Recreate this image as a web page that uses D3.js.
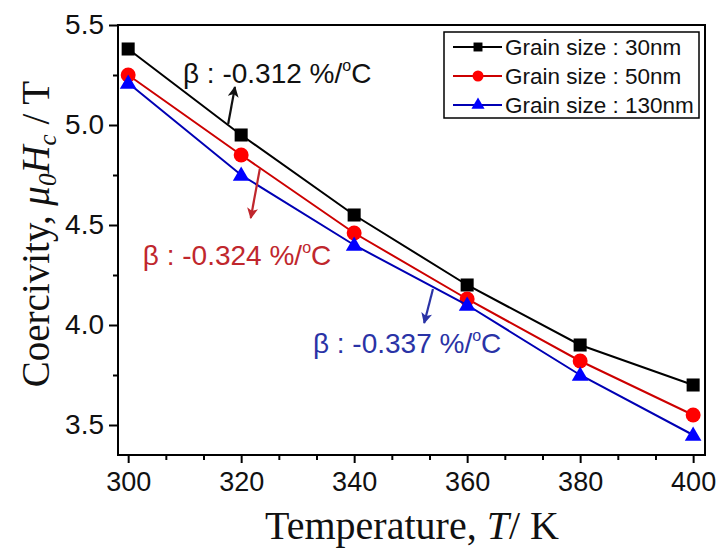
<!DOCTYPE html>
<html>
<head>
<meta charset="utf-8">
<script src="https://cdn.jsdelivr.net/npm/d3@7"></script>
<style>
body { margin: 0; background: #fff; }
text { font-family: "Liberation Sans", Arial, sans-serif; }
.serif { font-family: "Liberation Serif", "Times New Roman", serif; }
</style>
</head>
<body>
<svg id="chart" width="716" height="551"></svg>
<script>
// data
const temps = [300, 320, 340, 360, 380, 400];
const coer30 = [5.38, 4.95, 4.55, 4.20, 3.90, 3.70];
const coer50 = [5.25, 4.85, 4.46, 4.13, 3.82, 3.55];
const coer130 = [5.21, 4.75, 4.40, 4.10, 3.75, 3.45];
const seriesNames = ["Grain size : 30nm", "Grain size : 50nm", "Grain size : 130nm"];
const xTicks = [300, 320, 340, 360, 380, 400];
const yTicks = [3.5, 4.0, 4.5, 5.0, 5.5];
const betaLabels = ["\u03b2 : -0.312 %/", "\u03b2 : -0.324 %/", "\u03b2 : -0.337 %/"];
// annotation anchors in data units: text pos, arrow start, arrow tip
const betaText = [[309.7, 5.21], [302.6, 4.30], [332.7, 3.86]];
const arrowFrom = [[317.7, 5.005], [323.3, 4.78], [353.95, 4.18]];
const arrowTo = [[318.9, 5.19], [321.7, 4.535], [352.4, 4.01]];

const colors = ["#000000", "#ff0000", "#0000ff"];
const lineColors = ["#000000", "#cc0000", "#0000b4"];
const textColors = ["#111111", "#c0272d", "#2a33a6"];
const symbols = [d3.symbolSquare, d3.symbolCircle, d3.symbolTriangle];
const symSize = [170, 175, 120];

const svg = d3.select("#chart");
const x = d3.scaleLinear().domain([298.2, 402.1]).range([118, 705]);
const y = d3.scaleLinear().domain([3.35, 5.5]).range([455, 25]);

const series = [coer30, coer50, coer130].map((vals, i) => ({
  name: seriesNames[i],
  i: i,
  pts: temps.map((t, k) => ({t: t, v: vals[k]}))
}));

// minor ticks
const xMinor = d3.range(300, 400.01, 20 / 3).filter(v => !xTicks.some(t => Math.abs(t - v) < 0.01));
const yMinor = d3.range(3.5, 5.51, 0.25).filter(v => !yTicks.some(t => Math.abs(t - v) < 0.01));

const gx = svg.append("g").attr("transform", "translate(0,455)");
gx.call(d3.axisBottom(x).tickValues(xTicks).tickSize(8).tickPadding(9).tickFormat(d3.format("d")));
gx.append("g").call(d3.axisBottom(x).tickValues(xMinor).tickSize(5).tickFormat(""));
gx.selectAll(".domain").remove();
gx.selectAll("line").attr("stroke", "#000").attr("stroke-width", 2);
gx.selectAll("text").attr("font-size", 27).attr("fill", "#111");

const gy = svg.append("g").attr("transform", "translate(118,0)");
gy.call(d3.axisLeft(y).tickValues(yTicks).tickSize(9).tickPadding(5).tickFormat(d3.format(".1f")));
gy.append("g").call(d3.axisLeft(y).tickValues(yMinor).tickSize(5).tickFormat(""));
gy.selectAll(".domain").remove();
gy.selectAll("line").attr("stroke", "#000").attr("stroke-width", 2);
gy.selectAll("text").attr("font-size", 28).attr("fill", "#111");

// frame
svg.append("rect")
  .attr("x", 118).attr("y", 25)
  .attr("width", 705 - 118).attr("height", 455 - 25)
  .attr("fill", "none").attr("stroke", "#000").attr("stroke-width", 2);

// lines and markers
const line = d3.line().x(d => x(d.t)).y(d => y(d.v));
const sg = svg.append("g").selectAll("g").data(series).join("g");
sg.append("path")
  .attr("d", d => line(d.pts))
  .attr("fill", "none")
  .attr("stroke", d => lineColors[d.i])
  .attr("stroke-width", 2);
sg.selectAll("path.m").data(d => d.pts.map(p => ({...p, i: d.i}))).join("path")
  .attr("class", "m")
  .attr("d", d => d3.symbol(symbols[d.i], symSize[d.i])())
  .attr("transform", d => `translate(${x(d.t)},${y(d.v) + (d.i === 2 ? 1 : 0)})`)
  .attr("fill", d => colors[d.i]);

// arrowheads
const defs = svg.append("defs");
colors.forEach((c, i) => {
  defs.append("marker")
    .attr("id", "arr" + i)
    .attr("viewBox", "0 0 10 10")
    .attr("refX", 9).attr("refY", 5)
    .attr("markerWidth", 5.5).attr("markerHeight", 5)
    .attr("markerUnits", "strokeWidth")
    .attr("orient", "auto")
    .append("path").attr("d", "M0,0 L10,5 L0,10 L2.5,5 Z")
    .attr("fill", textColors[i]);
});

// beta annotations
betaLabels.forEach((lab, i) => {
  svg.append("line")
    .attr("x1", x(arrowFrom[i][0])).attr("y1", y(arrowFrom[i][1]))
    .attr("x2", x(arrowTo[i][0])).attr("y2", y(arrowTo[i][1]))
    .attr("stroke", textColors[i]).attr("stroke-width", 2.2)
    .attr("marker-end", `url(#arr${i})`);
  const t = svg.append("text")
    .attr("x", x(betaText[i][0])).attr("y", y(betaText[i][1]))
    .attr("font-size", 28).attr("fill", textColors[i]);
  t.append("tspan").text(lab);
  t.append("tspan").attr("dy", -12).attr("font-size", 16).text("o");
  t.append("tspan").attr("dy", 12).text("C");
});

// legend
const lg = svg.append("g");
lg.append("rect").attr("x", 444).attr("y", 32).attr("width", 255).attr("height", 86)
  .attr("fill", "#fff").attr("stroke", "#000").attr("stroke-width", 1.5);
const legSize = [80, 95, 75];
const li = lg.selectAll("g").data(series).join("g")
  .attr("transform", (d, k) => `translate(0,${47 + k * 29})`);
li.append("line").attr("x1", 453).attr("x2", 502)
  .attr("stroke", d => lineColors[d.i]).attr("stroke-width", 2);
li.append("path")
  .attr("d", d => d3.symbol(symbols[d.i], legSize[d.i])())
  .attr("transform", "translate(478,0)")
  .attr("fill", d => colors[d.i]);
li.append("text").attr("x", 505).attr("dy", "0.35em")
  .attr("font-size", 22.5).attr("fill", "#111").text(d => d.name);

// axis titles
const xt = svg.append("text").attr("class", "serif")
  .attr("x", 412).attr("y", 539).attr("text-anchor", "middle")
  .attr("font-size", 40).attr("fill", "#111");
xt.append("tspan").text("Temperature, ");
xt.append("tspan").attr("font-style", "italic").text("T");
xt.append("tspan").text("/ K");

const yt = svg.append("text").attr("class", "serif")
  .attr("transform", "translate(49,234) rotate(-90)")
  .attr("text-anchor", "middle")
  .attr("font-size", 39).attr("fill", "#111");
yt.append("tspan").text("Coercivity, ");
yt.append("tspan").attr("font-style", "italic").text("\u03bc");
yt.append("tspan").attr("font-style", "italic").attr("font-size", 25).attr("dy", 7).text("0");
yt.append("tspan").attr("font-style", "italic").attr("dy", -7).text("H");
yt.append("tspan").attr("font-style", "italic").attr("font-size", 25).attr("dy", 7).text("c");
yt.append("tspan").attr("dy", -7).text(" / T");
</script>
</body>
</html>
